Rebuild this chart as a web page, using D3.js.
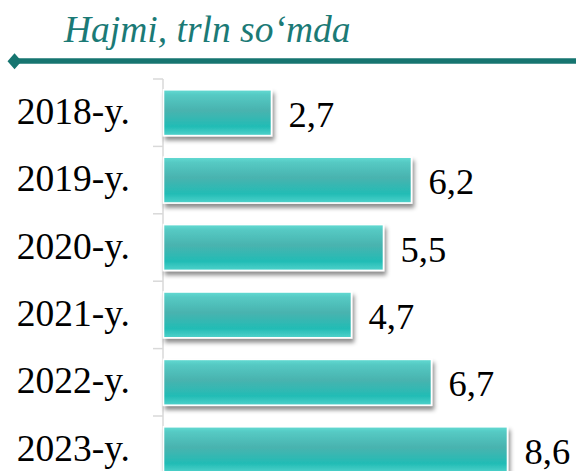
<!DOCTYPE html>
<html><head><meta charset="utf-8">
<script src="https://cdn.jsdelivr.net/npm/d3@7"></script>
<style>html,body{margin:0;padding:0;background:#fff;overflow:hidden}</style>
</head><body>
<svg id="chart" width="576" height="471"></svg>
<script>
const categories = ["2018-y.", "2019-y.", "2020-y.", "2021-y.", "2022-y.", "2023-y."];
const values = [2.7, 6.2, 5.5, 4.7, 6.7, 8.6];
const titleText = "Hajmi, trln so\u2018mda";

const svg = d3.select("#chart");
const defs = svg.append("defs");
const grad = defs.append("linearGradient").attr("id","barGrad").attr("x1",0).attr("y1",0).attr("x2",0).attr("y2",1);
[[0,"#62dbd3"],[0.12,"#55c9c3"],[0.45,"#49b3af"],[0.8,"#22bcb5"],[1,"#4fd2cb"]].forEach(([o,c])=>grad.append("stop").attr("offset",o).attr("stop-color",c));
const f = defs.append("filter").attr("id","shadow").attr("x","-10%").attr("y","-20%").attr("width","130%").attr("height","160%");
f.append("feDropShadow").attr("dx",2).attr("dy",4).attr("stdDeviation",2.2).attr("flood-color","#000").attr("flood-opacity",0.45);

const fmt = d3.formatLocale({decimal:",", thousands:" ", grouping:[3], currency:["",""]}).format(".1f");

const y = d3.scaleBand().domain(categories).range([79, 483.4]).paddingInner(0.32).paddingOuter(0.16);
const x = d3.scaleLinear().domain([0, 10]).range([163.5, 563.5]);
const serif = "'Liberation Serif','Times New Roman',serif";

// title
svg.append("text").attr("x",64).attr("y",42).attr("fill","#1b7a76")
  .attr("font-family",serif).attr("font-style","italic")
  .attr("font-size",37.5).text(titleText);
svg.append("line").attr("x1",14).attr("x2",576).attr("y1",61).attr("y2",61).attr("stroke","#167570").attr("stroke-width",5.5);
svg.append("path").attr("d","M7.5,61.3 L14.5,53.3 L21.5,61.3 L14.5,69.3 Z").attr("fill","#167570");

// axis
const axisG = svg.append("g");
axisG.append("line").attr("x1",163).attr("x2",163).attr("y1",79).attr("y2",483).attr("stroke","#d9d9d9").attr("stroke-width",1.5);
const step = y.step();
const boundaries = categories.map(c => y(c) - y.paddingInner()*step/2).concat([y(categories[categories.length-1]) + y.bandwidth() + y.paddingInner()*step/2]);
axisG.selectAll("line.tick").data(boundaries).join("line").attr("class","tick")
  .attr("x1",153).attr("x2",163).attr("y1",d=>d).attr("y2",d=>d).attr("stroke","#d9d9d9").attr("stroke-width",1.5);

// bars
svg.selectAll("rect.bar").data(values).join("rect").attr("class","bar")
  .attr("x", x(0)).attr("y",(d,i)=>y(categories[i]))
  .attr("width", d => x(d)-x(0)).attr("height", y.bandwidth())
  .attr("fill","url(#barGrad)").attr("stroke","#ffffff").attr("stroke-width",1.6)
  .attr("filter","url(#shadow)");

// value labels
svg.selectAll("text.val").data(values).join("text").attr("class","val")
  .attr("x", d => x(d)+17).attr("y",(d,i)=>y(categories[i])+y.bandwidth()/2+14)
  .attr("font-family",serif).attr("font-size",36.5).attr("fill","#000")
  .text(d => fmt(d));

// category labels
svg.selectAll("text.cat").data(categories).join("text").attr("class","cat")
  .attr("x",130).attr("y",c=>y(c)+y.bandwidth()/2+11).attr("text-anchor","end")
  .attr("font-family",serif).attr("font-size",37.5).attr("fill","#000")
  .text(c=>c);
</script>
</body></html>
